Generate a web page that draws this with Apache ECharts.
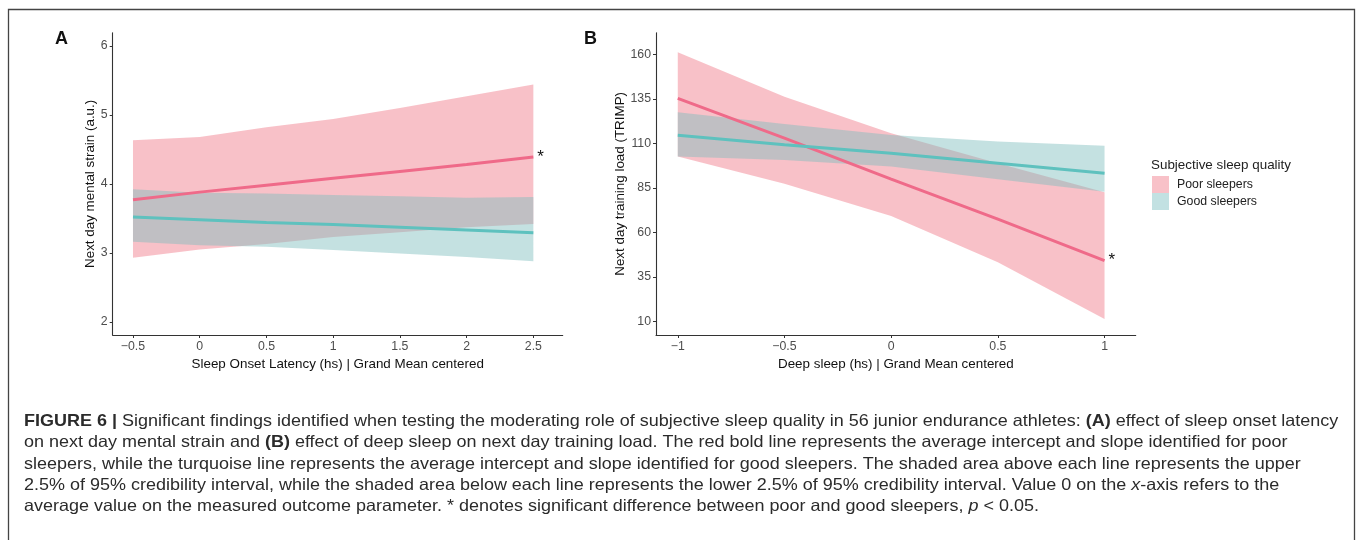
<!DOCTYPE html>
<html>
<head>
<meta charset="utf-8">
<script src="https://cdn.jsdelivr.net/npm/echarts@6/dist/echarts.min.js"></script>
<style>
  html, body { margin: 0; padding: 0; background: #fff; }
  #chart { width: 1357px; height: 540px; }
</style>
</head>
<body>
<div id="chart"></div>
<script>
// panel A: sleep onset latency vs mental strain
const xA = [-0.5, 0, 0.5, 1, 1.5, 2, 2.5]
const poorLineA = [3.77, 3.88, 3.98, 4.08, 4.18, 4.28, 4.39]
const poorUpA = [4.63, 4.68, 4.82, 4.94, 5.10, 5.27, 5.44]
const poorLowA = [2.93, 3.05, 3.13, 3.23, 3.30, 3.37, 3.42]
const goodLineA = [3.52, 3.48, 3.44, 3.41, 3.37, 3.33, 3.29]
const goodUpA = [3.92, 3.87, 3.86, 3.84, 3.82, 3.80, 3.81]
const goodLowA = [3.16, 3.11, 3.09, 3.04, 2.99, 2.94, 2.88]

// panel B: deep sleep vs training load
const xB = [-1, -0.5, 0, 0.5, 1]
const poorLineB = [135.3, 112.9, 89.9, 67.5, 44.2]
const poorUpB = [161.1, 136.2, 115.7, 98.9, 82.6]
const poorLowB = [102.6, 87.3, 69.3, 43.3, 11.5]
const goodLineB = [114.6, 109.3, 104.5, 98.9, 93.3]
const goodUpB = [127.5, 120.9, 114.7, 111.0, 108.7]
const goodLowB = [102.6, 100.7, 97.0, 89.9, 82.9]

const ticksXA = [-0.5, 0, 0.5, 1, 1.5, 2, 2.5]
const ticksYA = [2, 3, 4, 5, 6]
const ticksXB = [-1, -0.5, 0, 0.5, 1]
const ticksYB = [10, 35, 60, 85, 110, 135, 160]

const groups = ['Poor sleepers', 'Good sleepers']

const captionLines = [
  '{b|FIGURE 6 |} Significant findings identified when testing the moderating role of subjective sleep quality in 56 junior endurance athletes: {b|(A)} effect of sleep onset latency',
  'on next day mental strain and {b|(B)} effect of deep sleep on next day training load. The red bold line represents the average intercept and slope identified for poor',
  'sleepers, while the turquoise line represents the average intercept and slope identified for good sleepers. The shaded area above each line represents the upper',
  '2.5% of 95% credibility interval, while the shaded area below each line represents the lower 2.5% of 95% credibility interval. Value 0 on the {i|x}-axis refers to the',
  'average value on the measured outcome parameter. * denotes significant difference between poor and good sleepers, {i|p} < 0.05.'
]

const FONT = '"Liberation Sans", Arial, sans-serif'
const POOR_FILL = 'rgba(240,120,135,0.46)'
const GOOD_FILL = 'rgba(126,190,190,0.46)'
const POOR_KEY = '#F8C1C8'
const GOOD_KEY = '#C2E1E2'
const POOR_LINE = '#EF6A89'
const GOOD_LINE = '#5EC1BE'

const pairs = (xs, ys) => xs.map((x, i) => [x, ys[i]])
const minus = v => String(v).replace('-', '\u2212')

// credible band drawn as one polygon through the axis scales
function band(name, key, fill, xs, lo, hi, idx) {
  return {
    type: 'custom', name: name, xAxisIndex: idx, yAxisIndex: idx,
    data: xs.map((x, i) => [x, lo[i], hi[i]]),
    encode: { x: 0, y: [1, 2] },
    itemStyle: { color: key },
    silent: true, z: 1,
    renderItem: (params, api) => {
      if (params.dataIndex !== 0) return null
      const pts = []
      xs.forEach((x, i) => pts.push(api.coord([x, lo[i]])))
      for (let i = xs.length - 1; i >= 0; i--) pts.push(api.coord([xs[i], hi[i]]))
      return { type: 'polygon', shape: { points: pts }, style: { fill: fill, stroke: 'none' } }
    }
  }
}

function fitLine(xs, ys, color, idx, star) {
  const s = {
    type: 'line', name: 'fit', xAxisIndex: idx, yAxisIndex: idx,
    data: pairs(xs, ys), symbol: 'none', silent: true,
    lineStyle: { color: color, width: 3 }, itemStyle: { color: color }, z: 3
  }
  if (star) {
    s.endLabel = { show: true, formatter: '*', fontSize: 17, fontFamily: FONT, color: '#111', distance: 4 }
  }
  return s
}

function xAxis(min, max, ticks, title, gridIdx) {
  return {
    type: 'value', gridIndex: gridIdx, min: min, max: max,
    name: title, nameLocation: 'middle', nameGap: 18,
    nameTextStyle: { fontFamily: FONT, fontSize: 13.4, color: '#111' },
    splitLine: { show: false },
    axisLine: { show: true, onZero: false, lineStyle: { color: '#333', width: 1.1 } },
    axisTick: { show: true, length: 3, lineStyle: { color: '#333' }, customValues: ticks },
    axisLabel: { customValues: ticks, margin: 6, fontFamily: FONT, fontSize: 12.3, color: '#4D4D4D', formatter: minus }
  }
}

function yAxis(min, max, ticks, title, gridIdx, gap) {
  return {
    type: 'value', gridIndex: gridIdx, min: min, max: max,
    name: title, nameLocation: 'middle', nameGap: gap, nameRotate: 90,
    nameTextStyle: { fontFamily: FONT, fontSize: 13.4, color: '#111' },
    splitLine: { show: false },
    axisLine: { show: true, onZero: false, lineStyle: { color: '#333', width: 1.1 } },
    axisTick: { show: true, length: 3, lineStyle: { color: '#333' }, customValues: ticks },
    axisLabel: { customValues: ticks, margin: 5, fontFamily: FONT, fontSize: 12.3, color: '#4D4D4D' }
  }
}

const chart = echarts.init(document.getElementById('chart'), null, { renderer: 'canvas' })

const CAP_FONT = '"Liberation Sans", Arial, sans-serif'
const captionTexts = captionLines.map((t, i) => ({
  type: 'text', x: 24, y: 413 + i * 21.3, scaleX: 1.09, silent: true,
  style: {
    text: t, fontFamily: CAP_FONT, fontSize: 16.5, fill: '#2b2b2b',
    rich: {
      b: { fontWeight: 'bold', fontFamily: CAP_FONT, fontSize: 16.5, color: '#111' },
      i: { fontStyle: 'italic', fontFamily: CAP_FONT, fontSize: 16.5, color: '#2b2b2b' }
    }
  }
}))

const option = {
  animation: false,
  backgroundColor: '#fff',
  grid: [
    { left: 112.7, top: 32.7, width: 450, height: 302.3, outerBoundsMode: 'none' },
    { left: 656, top: 32.7, width: 479.7, height: 302.3, outerBoundsMode: 'none' }
  ],
  xAxis: [
    xAxis(-0.652, 2.72, ticksXA, 'Sleep Onset Latency (hs) | Grand Mean centered', 0),
    xAxis(-1.102, 1.146, ticksXB, 'Deep sleep (hs) | Grand Mean centered', 1)
  ],
  yAxis: [
    yAxis(1.81, 6.19, ticksYA, 'Next day mental strain (a.u.)', 0, 10),
    yAxis(2.5, 172.1, ticksYB, 'Next day training load (TRIMP)', 1, 25)
  ],
  legend: {
    orient: 'vertical', left: 1152, top: 176, padding: 0,
    icon: 'rect', itemWidth: 17, itemHeight: 17, itemGap: 0,
    selectedMode: false,
    textStyle: { fontFamily: FONT, fontSize: 12.3, color: '#222', padding: [0, 0, 0, 3] },
    data: [
      { name: groups[0], itemStyle: { color: POOR_KEY, borderWidth: 0 } },
      { name: groups[1], itemStyle: { color: GOOD_KEY, borderWidth: 0 } }
    ]
  },
  graphic: [
    {
      type: 'rect', silent: true, z: 100,
      shape: { x: 8.5, y: 9.5, width: 1346, height: 560 },
      style: { fill: 'none', stroke: '#444', lineWidth: 1.3 }
    },
    { type: 'text', left: 55, top: 30, silent: true, style: { text: 'A', fontFamily: FONT, fontWeight: 'bold', fontSize: 18, fill: '#111' } },
    { type: 'text', left: 584, top: 30, silent: true, style: { text: 'B', fontFamily: FONT, fontWeight: 'bold', fontSize: 18, fill: '#111' } },
    { type: 'text', left: 1151, top: 159, silent: true, style: { text: 'Subjective sleep quality', fontFamily: FONT, fontSize: 13.4, fill: '#222' } }
  ].concat(captionTexts),
  series: [
    band(groups[0], POOR_KEY, POOR_FILL, xA, poorLowA, poorUpA, 0),
    band(groups[1], GOOD_KEY, GOOD_FILL, xA, goodLowA, goodUpA, 0),
    band(groups[0], POOR_KEY, POOR_FILL, xB, poorLowB, poorUpB, 1),
    band(groups[1], GOOD_KEY, GOOD_FILL, xB, goodLowB, goodUpB, 1),
    fitLine(xA, poorLineA, POOR_LINE, 0, true),
    fitLine(xA, goodLineA, GOOD_LINE, 0, false),
    fitLine(xB, poorLineB, POOR_LINE, 1, true),
    fitLine(xB, goodLineB, GOOD_LINE, 1, false)
  ]
}

chart.setOption(option)
</script>
</body>
</html>
